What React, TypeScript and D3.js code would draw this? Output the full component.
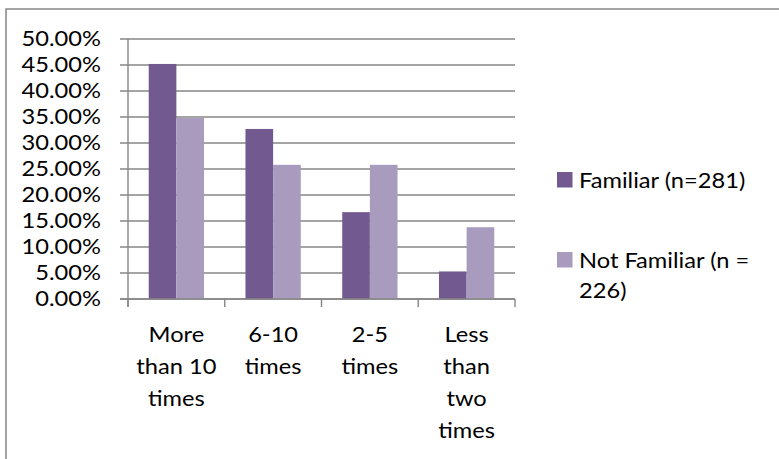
import React from "react";
import * as d3 from "d3";

// Frequency categories (wrapped onto several lines, as in the axis labels)
const categories: string[][] = [
  ["More", "than 10", "times"],
  ["6-10", "times"],
  ["2-5", "times"],
  ["Less", "than", "two", "times"],
];

// Share of respondents (%) for each group
const familiar: number[] = [45.2, 32.7, 16.7, 5.3];
const notFamiliar: number[] = [34.8, 25.8, 25.8, 13.8];

const seriesLabels: string[][] = [["Familiar (n=281)"], ["Not Familiar (n =", "226)"]];
const seriesColors: string[] = ["#72598f", "#a99bbd"];

const yTicks: number[] = [0, 5, 10, 15, 20, 25, 30, 35, 40, 45, 50];

const W = 779;
const H = 459;
const FONT = "Lato, 'Open Sans', sans-serif";
const FS = 21.5;
const SX = 1.1; // glyphs are a little wider than tall
const GRID = "#868686";

type LabelProps = {
  x: number;
  y: number;
  lines: string[];
  anchor?: "start" | "middle" | "end";
  lineGap?: number;
};

// Multi-line label, stretched horizontally around its anchor point
function Label({ x, y, lines, anchor = "start", lineGap = 32 }: LabelProps) {
  return (
    <text
      transform={`translate(${x},${y}) scale(${SX},1)`}
      textAnchor={anchor}
      fontSize={FS}
      fill="#000"
    >
      {lines.map((ln, i) => (
        <tspan key={i} x={0} dy={i === 0 ? 0 : lineGap}>
          {ln}
        </tspan>
      ))}
    </text>
  );
}

export default function App() {
  const plotLeft = 128;
  const plotRight = 515;
  const plotTop = 39;
  const plotBottom = 299;

  const x = d3
    .scaleBand<number>()
    .domain(categories.map((_, i) => i))
    .range([plotLeft, plotRight])
    .paddingInner(0)
    .paddingOuter(0);

  const xs = d3
    .scaleBand<number>()
    .domain([0, 1])
    .range([0, x.bandwidth()])
    .paddingInner(0)
    .paddingOuter(0.75);

  const y = d3.scaleLinear().domain([0, 50]).range([plotBottom, plotTop]);

  const series = [familiar, notFamiliar];
  const fmt = (v: number) => d3.format(".2f")(v) + "%";

  const boundaries = d3.range(categories.length + 1).map((i) =>
    i < categories.length ? (x(i) as number) : plotRight
  );

  return (
    <svg
      width={W}
      height={H}
      style={{ position: "absolute", left: 0, top: 0, background: "#fff" }}
      fontFamily={FONT}
    >
      <rect x={0} y={0} width={W} height={H} fill="#fff" />
      {/* chart frame, running off the right and bottom edges */}
      <rect x={6} y={9} width={W + 20} height={H + 20} fill="none" stroke={GRID} strokeWidth={1.5} />

      {/* horizontal gridlines with their tick marks */}
      {yTicks.map((t) => (
        <line
          key={"g" + t}
          x1={plotLeft - 8}
          x2={plotRight}
          y1={y(t)}
          y2={y(t)}
          stroke={GRID}
          strokeWidth={1.4}
        />
      ))}

      {/* bars */}
      {series.map((vals, si) =>
        vals.map((v, ci) => (
          <rect
            key={`b${si}-${ci}`}
            x={(x(ci) as number) + (xs(si) as number)}
            y={y(v)}
            width={xs.bandwidth()}
            height={y(0) - y(v)}
            fill={seriesColors[si]}
          />
        ))
      )}

      {/* value axis line */}
      <line x1={plotLeft} x2={plotLeft} y1={plotTop} y2={plotBottom + 8} stroke={GRID} strokeWidth={1.4} />
      {/* category tick marks */}
      {boundaries.map((bx, i) => (
        <line key={"t" + i} x1={bx} x2={bx} y1={plotBottom} y2={plotBottom + 8} stroke={GRID} strokeWidth={1.4} />
      ))}
      <line x1={plotLeft - 8} x2={plotRight} y1={plotBottom} y2={plotBottom} stroke={GRID} strokeWidth={1.4} />

      {/* value axis labels */}
      {yTicks.map((t) => (
        <Label key={"l" + t} x={101} y={y(t) + 6.5} lines={[fmt(t)]} anchor="end" />
      ))}

      {/* category labels */}
      {categories.map((lines, ci) => (
        <Label
          key={"c" + ci}
          x={(x(ci) as number) + x.bandwidth() / 2}
          y={342}
          lines={lines}
          anchor="middle"
          lineGap={32}
        />
      ))}

      {/* legend */}
      {seriesLabels.map((lines, si) => {
        const top = 172 + si * 80;
        return (
          <g key={"lg" + si}>
            <rect x={557} y={top} width={15.5} height={15.5} fill={seriesColors[si]} />
            <Label x={579} y={top + 15.5} lines={lines} lineGap={31} />
          </g>
        );
      })}
    </svg>
  );
}
